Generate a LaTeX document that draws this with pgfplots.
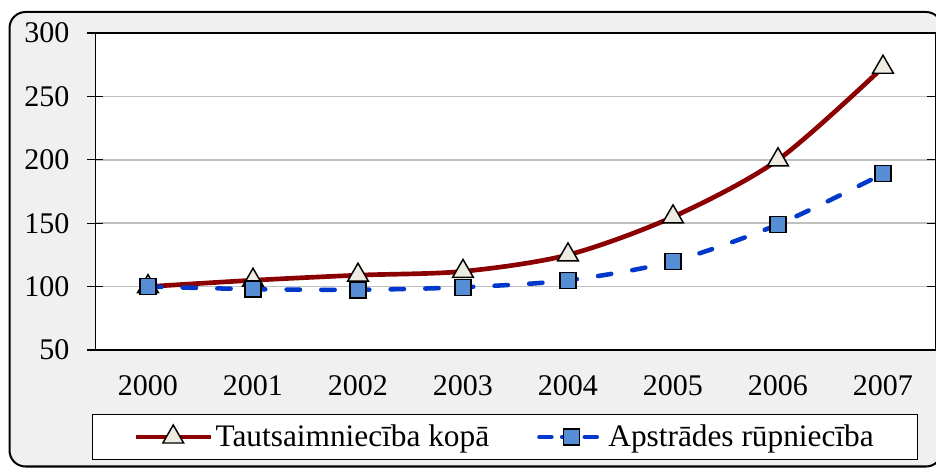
\documentclass[border=0pt]{standalone}
\usepackage{fontspec}
\setmainfont{Liberation Serif}
\usepackage{pgfplots}
\pgfplotsset{compat=1.18}
\definecolor{bgc}{HTML}{F0F0F0}
\definecolor{redl}{HTML}{8B0000}
\definecolor{bluel}{HTML}{0038CC}
\definecolor{sqf}{HTML}{558ED5}
\definecolor{trf}{HTML}{EEECE1}
\definecolor{gridc}{HTML}{C0C0C0}
\pgfplotsset{
  redleg/.style={legend image code/.code={\draw[##1, mark repeat=2, mark phase=2] plot coordinates {(0pt,0pt) (28pt,0pt) (56pt,0pt)};}},
  blueleg/.style={legend image code/.code={\draw[##1, mark repeat=2, mark phase=2, dash pattern=on 9pt off 8pt] plot coordinates {(0pt,0pt) (24pt,0pt) (48pt,0pt)};}},
}
\begin{document}
\begin{tikzpicture}[x=0.75pt,y=0.75pt]
\useasboundingbox (0,0) rectangle (936,468);
\clip (0,0) rectangle (936,468);
\draw[line width=1.5pt, fill=bgc, rounded corners=12pt] (9.5,1.5) rectangle (942,456);
\begin{axis}[
  at={(71.625pt,88.5pt)}, anchor=south west,
  scale only axis, width=630pt, height=237.75pt,
  xmin=-0.5, xmax=7.5, ymin=50, ymax=300,
  axis background/.style={fill=white},
  axis line style={line width=1pt, black},
  xtick={0,...,7},
  xticklabels={2000,2001,2002,2003,2004,2005,2006,2007},
  xtick style={draw=none},
  extra x ticks={0.5,1.5,2.5,3.5,4.5,5.5,6.5},
  extra x tick labels={},
  extra x tick style={tick style={draw=black, line width=1pt}, major tick length=12pt},
  ytick={50,100,...,300},
  ymajorgrids, grid style={gridc, line width=1.1pt},
  tick align=center, major tick length=12pt,
  ytick style={line width=1pt, black},
  tick label style={font=\fontsize{22.5}{26}\selectfont},
  /pgf/number format/assume math mode=true,
  yticklabel style={xshift=-10pt},
  xticklabel style={yshift=-9.5pt},
  legend columns=2,
  legend style={at={(0.4875,-0.2744)}, anchor=center, draw=black, line width=1.1pt,
    fill=white, font=\fontsize{23.5}{27}\selectfont, inner xsep=31pt, inner ysep=6pt,
    /tikz/every even column/.append style={column sep=34pt}},
  legend cell align=left,
]
\addplot[redl, line width=3.5pt, smooth, mark=triangle*, mark size=9pt,
  mark options={fill=trf, draw=black, line width=1.1pt, solid}, redleg]
coordinates {(0,100) (1,105) (2,109) (3,112) (4,125) (5,155) (6,200) (7,273)};
\addlegendentry{Tautsaimniecība kopā}
\addplot[bluel, line width=3.4pt, smooth, dash pattern=on 10pt off 16pt, line cap=round,
  mark=square*, mark size=6pt,
  mark options={fill=sqf, draw=black, line width=1.1pt, solid}, blueleg]
coordinates {(0,100) (1,98) (2,97.5) (3,99.5) (4,105) (5,120) (6,149) (7,189)};
\addlegendentry{Apstrādes rūpniecība}
\end{axis}
\end{tikzpicture}
\end{document}
